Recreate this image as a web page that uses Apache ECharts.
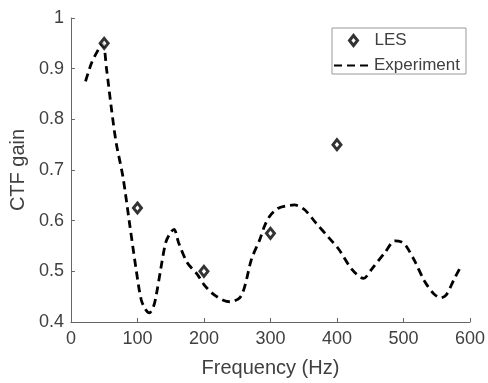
<!DOCTYPE html>
<html>
<head>
<meta charset="utf-8">
<script src="https://cdn.jsdelivr.net/npm/echarts@6/dist/echarts.min.js"></script>
<style>
html,body{margin:0;padding:0;background:#fff;}
#chart{width:488px;height:383px;}
</style>
</head>
<body>
<div id="chart"></div>
<script>
var lesFreq = [50, 100, 200, 300, 400];
var lesGain = [0.95, 0.625, 0.5, 0.575, 0.75];

var expFreq = [22, 31, 41, 48, 53.5, 61, 68, 78, 88, 98, 105.5, 112, 118, 124, 128, 135, 142.6, 150, 155, 162, 175, 190, 200, 214, 229, 239, 254, 261.5, 271.5, 284, 291, 299, 311, 323, 336, 351, 368, 388, 403, 422.5, 440, 452, 472, 487, 497, 504, 517, 531.5, 546, 556, 564, 576, 586];
var expGain = [0.875, 0.911, 0.937, 0.95, 0.90, 0.82, 0.754, 0.688, 0.596, 0.504, 0.445, 0.425, 0.418, 0.43, 0.451, 0.504, 0.557, 0.577, 0.583, 0.556, 0.517, 0.494, 0.474, 0.455, 0.443, 0.44, 0.448, 0.471, 0.524, 0.563, 0.589, 0.609, 0.624, 0.629, 0.631, 0.622, 0.596, 0.566, 0.543, 0.504, 0.486, 0.504, 0.537, 0.56, 0.558, 0.55, 0.52, 0.481, 0.455, 0.448, 0.453, 0.484, 0.509];

var xTicks = [0, 100, 200, 300, 400, 500, 600];
var yTicks = [0.4, 0.5, 0.6, 0.7, 0.8, 0.9, 1];

var FONT = 'Liberation Sans, Arial, Helvetica, sans-serif';
var TXT = '#404040';
var AX = '#666666';

var lesData = lesFreq.map(function (f, i) { return [f, lesGain[i]]; });
var expData = expFreq.map(function (f, i) { return [f, expGain[i]]; });

var markerStyle = { color: '#ffffff', borderColor: '#000000', borderWidth: 3 };

var chart = echarts.init(document.getElementById('chart'), null, { renderer: 'canvas' });
chart.setOption({
  animation: false,
  backgroundColor: '#ffffff',
  grid: { left: 69, right: 15, top: 18, bottom: 60, containLabel: false },
  xAxis: {
    type: 'value',
    min: xTicks[0], max: xTicks[xTicks.length - 1], interval: 100,
    name: 'Frequency (Hz)', nameLocation: 'middle', nameGap: 36,
    nameTextStyle: { fontFamily: FONT, fontSize: 20, color: TXT },
    axisLine: { show: true, lineStyle: { color: AX, width: 1 } },
    axisTick: { show: true, inside: true, length: 4, lineStyle: { color: AX } },
    axisLabel: { fontFamily: FONT, fontSize: 18, color: TXT, margin: 8 },
    splitLine: { show: false }
  },
  yAxis: {
    type: 'value',
    min: yTicks[0], max: yTicks[yTicks.length - 1], interval: 0.1,
    name: 'CTF gain', nameLocation: 'middle', nameGap: 38, nameRotate: 90,
    nameTextStyle: { fontFamily: FONT, fontSize: 20, color: TXT },
    axisLine: { show: true, lineStyle: { color: AX, width: 1 } },
    axisTick: { show: true, inside: true, length: 4, lineStyle: { color: AX } },
    axisLabel: { fontFamily: FONT, fontSize: 18, color: TXT, margin: 7,
      formatter: function (v) { return String(Math.round(v * 10) / 10); } },
    splitLine: { show: false }
  },
  legend: [
    {
      orient: 'vertical',
      left: 332, top: 28,
      padding: [29, 6, 0, 1],
      itemWidth: 38, itemHeight: 13,
      borderColor: '#999999', borderWidth: 1,
      backgroundColor: '#ffffff',
      z: 5,
      textStyle: { fontFamily: FONT, fontSize: 17, color: TXT, padding: [0, 0, 0, -3] },
      data: [
        { name: 'Experiment', itemStyle: { opacity: 0 } }
      ]
    },
    {
      orient: 'vertical',
      left: 348, top: 32,
      padding: 0,
      itemWidth: 8, itemHeight: 10,
      z: 6,
      textStyle: { fontFamily: FONT, fontSize: 17, color: TXT, padding: [0, 0, 0, 12] },
      data: [
        { name: 'LES', itemStyle: markerStyle }
      ]
    }
  ],
  series: [
    {
      name: 'Experiment',
      type: 'line',
      data: expData,
      smooth: 0.3,
      symbol: 'none',
      lineStyle: { color: '#000000', width: 2.8, type: [8, 5] },
      itemStyle: { color: '#000000' },
      z: 2
    },
    {
      name: 'LES',
      type: 'scatter',
      data: lesData,
      symbol: 'diamond',
      symbolSize: [8, 10],
      itemStyle: markerStyle,
      z: 3
    }
  ]
});
</script>
</body>
</html>
